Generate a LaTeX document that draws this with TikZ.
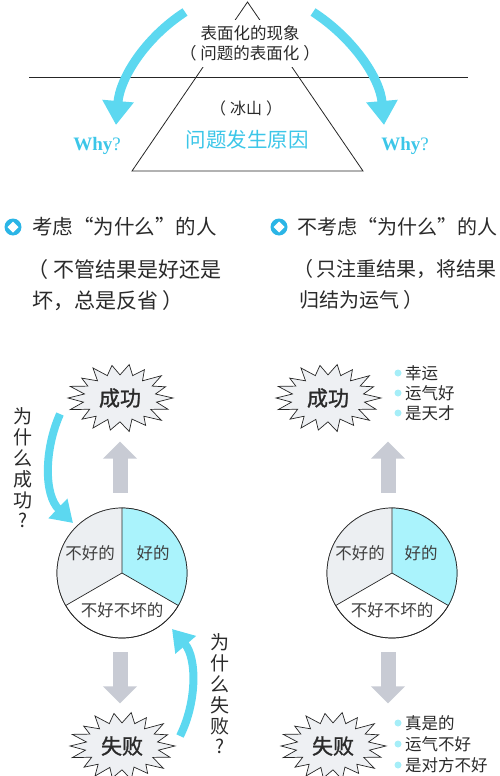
\documentclass[tikz,border=0pt]{standalone}
\usepackage{fontspec}
\setmainfont{Noto Sans CJK SC}
\newfontfamily\whyfont{Liberation Serif}
\newfontfamily\burstfont[FakeBold=1.2]{Noto Sans CJK SC}
\usetikzlibrary{arrows.meta,calc}
\definecolor{cyanA}{HTML}{5CD8F0}
\definecolor{cyanT}{HTML}{3CC6E8}
\definecolor{iconC}{HTML}{2BB5E6}
\definecolor{dotC}{HTML}{A6EEF8}
\definecolor{pieC}{HTML}{AAF3FC}
\definecolor{pieG}{HTML}{ECEFF2}
\definecolor{burstG}{HTML}{EEF0F3}
\definecolor{arrowG}{HTML}{C8CBD4}
\definecolor{txt}{HTML}{2A2A2A}
\tikzset{
  cyanarrow/.style={draw=cyanA, line width=9pt, -{Triangle[width=30pt,length=24pt]}},
  cyanarrowS/.style={draw=cyanA, line width=8pt, -{Triangle[width=26pt,length=21pt]}},
  gblock/.style={draw=arrowG, line width=15pt, -{Triangle[width=33pt,length=17pt]}},
  burstline/.style={draw=black!85, line width=0.7pt, fill=burstG, line join=miter},
  bursttext/.style={inner sep=0pt, text=txt, font=\burstfont\fontsize{21}{24}\selectfont},
  pie/.style={circle, draw=black!85, line width=0.7pt, minimum size=130pt, inner sep=0pt},
  pielabel/.style={text=txt!90, font=\fontsize{16.5}{19}\selectfont, inner sep=0pt},
  icon/.style={circle, fill=iconC, minimum size=17pt, inner sep=0pt},
  dot/.style={circle, fill=dotC, minimum size=7pt, inner sep=0pt},
  head/.style={anchor=west, text=txt, inner sep=0pt, font=\fontsize{20.5}{24}\selectfont},
  sub/.style={anchor=north west, align=left, text=txt, inner sep=0pt, font=\fontsize{21}{31}\selectfont},
  item/.style={anchor=west, text=txt, inner sep=0pt, font=\fontsize{16.5}{19}\selectfont},
  vert/.style={align=center, text=txt, inner sep=0pt, font=\fontsize{19}{20.8}\selectfont},
  why/.style={text=cyanT, inner sep=0pt, font=\whyfont\fontsize{19}{22}\selectfont},
}
\newcommand\burstat[1]{%
  \path[burstline] ($(#1)+(0:53 and 34)$)
  \foreach \a/\r in {10/0.68,21/0.92,30/0.70,40/1.02,50/0.66,61/0.95,70/0.70,80/1.0,90/0.68,
    99/0.97,110/0.70,120/1.02,130/0.66,141/0.93,150/0.70,160/1.0,170/0.68,180/0.98,190/0.70,
    200/1.0,210/0.66,221/0.95,230/0.70,240/1.02,250/0.67,259/0.96,270/0.70,280/1.0,290/0.66,
    301/0.94,310/0.70,320/1.02,330/0.67,340/0.96,350/0.70}
  { -- ($(#1)+(\a:{53*\r} and {34*\r})$) } -- cycle;}
\begin{document}
\begin{tikzpicture}[x=1pt,y=1pt]
\useasboundingbox (0,0) rectangle (500,-776);
% ---------- iceberg ----------
\draw[line width=0.8pt, black!85] (132,-171) -- (247.5,-2) -- (363,-171) -- cycle;
\draw[line width=0.8pt, black!85] (29,-77) -- (468,-77);
\node[fill=white, inner sep=0pt, minimum width=130pt, minimum height=47pt, align=center,
      text=txt, font=\fontsize{16.5}{20}\selectfont] (surf) at (250,-43.5)
      {表面化的现象\\（\hspace{4pt}问题的表面化\hspace{4pt}）};
\node[text=txt, font=\fontsize{16}{19}\selectfont, inner sep=0pt] (ice) at (246,-108) {（\hspace{4pt}冰山\hspace{4pt}）};
\node[text=cyanT, font=\fontsize{20.5}{24}\selectfont, inner sep=0pt] (cause) at (247,-140) {问题发生原因};
\node[why] (whyL) at (97,-146) {\textbf{Why}?};
\node[why] (whyR) at (405,-146) {\textbf{Why}?};
\coordinate (aLs) at (185,-12); \coordinate (aLe) at (116,-125);
\coordinate (aRs) at (313,-12); \coordinate (aRe) at (384,-125);
\draw[cyanarrow] (aLs) .. controls (145,-38) and (120,-78) .. (aLe);
\draw[cyanarrow] (aRs) .. controls (353,-38) and (380,-78) .. (aRe);
% ---------- headings ----------
\node[icon] (icL) at (13,-227) {};
\fill[white] (icL.center) +(0,5.5) -- +(5.5,0) -- +(0,-5.5) -- +(-5.5,0) -- cycle;
\node[head] (hL) at (32,-227) {考虑“为什么”的人};
\node[sub] (sL) at (27,-259) {（\hspace{5pt}不管结果是好还是\\\hspace*{5pt}坏，总是反省\hspace{4pt}）};
\node[icon] (icR) at (279,-227) {};
\fill[white] (icR.center) +(0,5.5) -- +(5.5,0) -- +(0,-5.5) -- +(-5.5,0) -- cycle;
\node[head, font=\fontsize{20}{24}\selectfont] (hR) at (297,-227) {不考虑“为什么”的人};
\node[sub, font=\fontsize{20}{31}\selectfont] (sR) at (293,-259) {（\hspace{3pt}只注重结果，将结果\\\hspace*{6pt}归结为运气\hspace{4pt}）};
% ---------- left diagram ----------
\coordinate (cOkL) at (120,-398);
\burstat{cOkL}
\node[bursttext] (okL) at (cOkL) {成功};
\node[pie] (pieL) at (122,-573) {};
\fill[pieG] (pieL.center) -- (pieL.north) arc[start angle=90, end angle=210, radius=65] -- cycle;
\fill[pieC] (pieL.center) -- (pieL.330) arc[start angle=-30, end angle=90, radius=65] -- cycle;
\node[pie] at (pieL.center) {};
\draw[line width=0.7pt, black!85] (pieL.north) -- (pieL.center) -- (pieL.210) (pieL.center) -- (pieL.330);
\node[pielabel] (l1) at (90,-553) {不好的};
\node[pielabel] (l2) at (153,-553) {好的};
\node[pielabel] (l3) at (122,-610) {不好不坏的};
\draw[gblock] ([xshift=-2pt,yshift=15pt]pieL.north) -- ([xshift=-2pt,yshift=66pt]pieL.north);
\draw[gblock] ([xshift=-2pt,yshift=-14pt]pieL.south) -- ([xshift=-2pt,yshift=-65pt]pieL.south);
\coordinate (cNgL) at (122,-746);
\burstat{cNgL}
\node[bursttext] (ngL) at (cNgL) {失败};
\coordinate (wsS) at (60,-414); \coordinate (wsE) at (73,-523);
\draw[cyanarrowS] (wsS) .. controls (44,-450) and (44,-495) .. (wsE);
\node[vert] (vL) at (23,-468) {为\\什\\么\\成\\功\\?};
\coordinate (wfS) at (180,-736); \coordinate (wfE) at (172,-629);
\draw[cyanarrowS] (wfS) .. controls (197,-702) and (197,-658) .. (wfE);
\node[vert] (vR) at (220,-694) {为\\什\\么\\失\\败\\?};
% ---------- right diagram ----------
\coordinate (cOkR) at (328,-398);
\burstat{cOkR}
\node[bursttext] (okR) at (cOkR) {成功};
\node[dot] (d1) at (398,-373) {}; \node[item] (t1) at (405,-373) {幸运};
\node[dot] (d2) at (398,-393) {}; \node[item] (t2) at (405,-393) {运气好};
\node[dot] (d3) at (398,-413) {}; \node[item] (t3) at (405,-413) {是天才};
\node[pie] (pieR) at (392,-573) {};
\fill[pieG] (pieR.center) -- (pieR.north) arc[start angle=90, end angle=210, radius=65] -- cycle;
\fill[pieC] (pieR.center) -- (pieR.330) arc[start angle=-30, end angle=90, radius=65] -- cycle;
\node[pie] at (pieR.center) {};
\draw[line width=0.7pt, black!85] (pieR.north) -- (pieR.center) -- (pieR.210) (pieR.center) -- (pieR.330);
\node[pielabel] (r1) at (360,-553) {不好的};
\node[pielabel] (r2) at (421,-553) {好的};
\node[pielabel] (r3) at (392,-610) {不好不坏的};
\draw[gblock] ([xshift=-4pt,yshift=15pt]pieR.north) -- ([xshift=-4pt,yshift=66pt]pieR.north);
\draw[gblock] ([xshift=-4pt,yshift=-14pt]pieR.south) -- ([xshift=-4pt,yshift=-65pt]pieR.south);
\coordinate (cNgR) at (333,-746);
\burstat{cNgR}
\node[bursttext] (ngR) at (cNgR) {失败};
\node[dot] (d4) at (398,-723) {}; \node[item] (t4) at (405,-723) {真是的};
\node[dot] (d5) at (398,-744) {}; \node[item] (t5) at (405,-744) {运气不好};
\node[dot] (d6) at (398,-765) {}; \node[item] (t6) at (405,-765) {是对方不好};
\end{tikzpicture}
\end{document}
